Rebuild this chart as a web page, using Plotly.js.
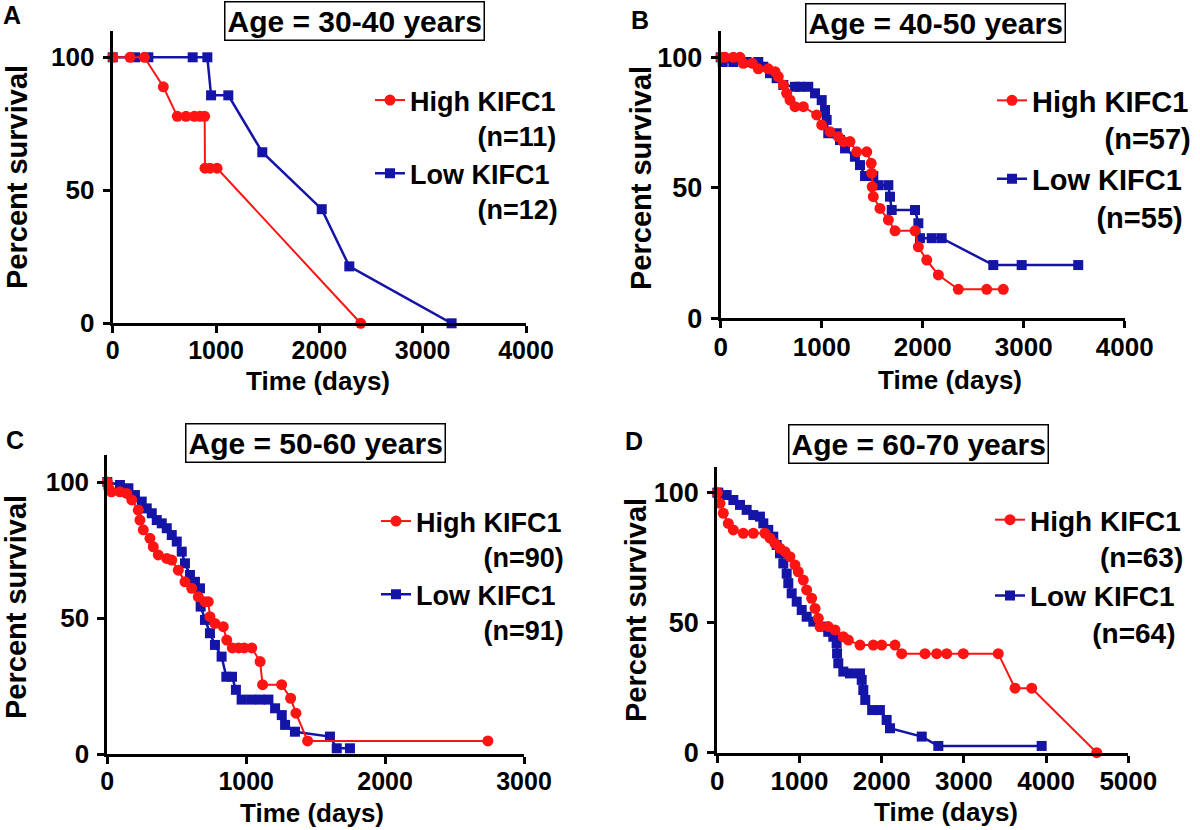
<!DOCTYPE html>
<html>
<head>
<meta charset="utf-8">
<script src="https://cdn.plot.ly/plotly-3.0.1.min.js"></script>
<style>html,body{margin:0;padding:0;background:#fff;}#chart{width:1200px;height:830px;}</style>
</head>
<body>
<div id="chart"></div>
<script>
// ---------- DATA ----------
const panelTitles = ["Age = 30-40 years", "Age = 40-50 years", "Age = 50-60 years", "Age = 60-70 years"];
const panelLetters = ["A", "B", "C", "D"];
const seriesNames = ["High KIFC1", "Low KIFC1"];
const nHigh = [11, 57, 90, 63];
const nLow = [12, 55, 91, 64];
const xTitle = "Time (days)";
const yTitle = "Percent survival";
const yTicks = [0, 50, 100];
const xMax = [4000, 4000, 3000, 5000];

// Panel A (30-40 years)
const A_high_days = [0, 167, 306, 490, 625, 709, 790, 845, 890, 893, 942, 1010, 2400];
const A_high_pct  = [100, 100, 100, 88.9, 77.8, 77.8, 77.8, 77.8, 77.8, 58.3, 58.3, 58.3, 0];
const A_low_days  = [0, 216, 345, 774, 916, 952, 1119, 1448, 2023, 2290, 3280];
const A_low_pct   = [100, 100, 100, 100, 100, 85.7, 85.7, 64.3, 42.9, 21.4, 0];

// Panel B (40-50 years)
const B_high_days = [0, 43, 125, 190, 224, 313, 372, 471, 538, 570, 620, 653, 686, 736, 818, 950, 1000, 1082, 1164, 1214, 1280, 1347, 1446, 1490, 1495, 1500, 1511, 1577, 1660, 1726, 1924, 1957, 2040, 2155, 2353, 2634, 2798];
const B_high_pct  = [100, 100, 100, 100, 97.7, 97.7, 95.6, 95.6, 94.5, 92.6, 89.4, 86.2, 83.6, 81.1, 81.1, 77.9, 74.1, 71.5, 69.6, 67.7, 67.7, 63.8, 63.8, 59.4, 55.6, 50.4, 46.6, 42.1, 37.7, 33.5, 33.5, 27.4, 22.3, 16.6, 11.1, 11.1, 11.1];
const B_low_days  = [0, 20, 125, 257, 372, 422, 488, 554, 620, 736, 785, 867, 934, 1000, 1033, 1049, 1065, 1148, 1181, 1231, 1329, 1379, 1429, 1511, 1560, 1660, 1676, 1693, 1924, 1957, 1973, 2089, 2188, 2699, 2980, 3540];
const B_low_pct   = [100, 98.2, 98.2, 98.2, 98.2, 96.4, 93.9, 92, 89.4, 88.7, 88.7, 88.7, 86.2, 83.6, 79.8, 76, 70.9, 70.9, 68.3, 65.1, 61.9, 58.7, 54.5, 54.5, 51, 51, 46.6, 41.5, 41.5, 36.4, 30.7, 30.7, 30.7, 20.4, 20.4, 20.4];

// Panel C (50-60 years)
const C_high_days = [0, 10, 30, 91, 140, 176, 223, 235, 259, 307, 331, 367, 428, 464, 511, 559, 608, 655, 703, 727, 739, 775, 835, 860, 900, 945, 985, 1040, 1100, 1118, 1255, 1320, 1358, 1442, 2740];
const C_high_pct  = [100, 97.8, 96.4, 96.4, 95.8, 93.4, 89.7, 86, 82.4, 79.3, 76.2, 73.2, 71.9, 71.3, 67.6, 63.3, 60.9, 57.8, 56, 56, 50.5, 48, 46.8, 41.9, 39, 39, 39, 39, 34, 25.5, 25.5, 20.5, 15, 4.8, 4.8];
const C_low_days  = [0, 91, 152, 199, 248, 284, 320, 356, 392, 428, 464, 500, 536, 559, 595, 631, 667, 672, 703, 739, 775, 823, 857, 898, 926, 967, 1036, 1100, 1160, 1208, 1256, 1280, 1351, 1603, 1652, 1747];
const C_low_pct   = [100, 98.9, 97.7, 95.2, 92.8, 90.3, 88.5, 86, 84.8, 83, 80.5, 78.1, 74.4, 70.1, 65.8, 63.3, 60.9, 54.2, 49.3, 44.4, 40.1, 35.8, 28.4, 28.4, 23.6, 20, 20, 20, 20, 16.8, 14.3, 10.7, 8.2, 6.4, 2.1, 2.1];

// Panel D (60-70 years)
const D_high_days = [0, 33, 73, 134, 195, 316, 438, 580, 641, 702, 763, 823, 884, 945, 985, 1046, 1087, 1148, 1189, 1229, 1249, 1350, 1432, 1533, 1594, 1736, 1898, 2000, 2162, 2243, 2527, 2669, 2791, 2993, 3418, 3622, 3825, 4616];
const D_high_pct  = [100, 95.9, 92.1, 88.2, 85.7, 84.4, 84.4, 84.4, 82.5, 80.5, 78.6, 77.3, 75.4, 72.2, 69.6, 66.4, 62.6, 59.4, 55.5, 51.7, 48.5, 48.5, 47.2, 44.6, 43.3, 41.4, 41.4, 41.4, 41.4, 38.1, 38.1, 38.1, 38.1, 38.1, 38.1, 24.8, 24.8, 0];
const D_low_days  = [0, 12, 114, 195, 276, 357, 438, 519, 560, 620, 681, 722, 763, 803, 844, 864, 905, 966, 1027, 1087, 1168, 1270, 1350, 1411, 1452, 1457, 1472, 1533, 1614, 1736, 1757, 1776, 1800, 1884, 1978, 2060, 2101, 2487, 2689, 3946];
const D_low_pct   = [100, 100, 99.1, 97.2, 95.3, 93.4, 91.4, 90.8, 88.2, 85.7, 83.1, 79.9, 76.7, 72.8, 68.9, 65.2, 61.3, 58.1, 54.9, 52.3, 50.4, 48.5, 46.5, 44.6, 42.1, 38.2, 34.4, 31.2, 30.5, 30.5, 28, 24.1, 20.3, 16.4, 16.4, 12.6, 9.4, 6.2, 2.6, 2.6];

// ---------- LAYOUT HELPERS (pixel geometry) ----------
const W = 1200, H = 830;
const px = x => x / W;
const py = y => 1 - y / H;
const RED = '#ff1414', BLUE = '#1414a6';
const FONT = 'Liberation Sans, Arial, Helvetica, sans-serif';
const nb = n => '\u00a0'.repeat(n);

const panels = [
  {hd: A_high_days, hp: A_high_pct, ld: A_low_days, lp: A_low_pct,
   x0: 112.7, x1: 526, yb: 323.3, yt: 30.7, xtick: 25, ytick: 26, leg: 27, legX: 370, legY: 76, padH: 9, padL: 9,
   title: [354, 21], letter: [12, 15], ytit: [17, 177], xtit: [318, 381]},
  {hd: B_high_days, hp: B_high_pct, ld: B_low_days, lp: B_low_pct,
   x0: 720.7, x1: 1124.7, yb: 318.3, yt: 31.2, xtick: 26, ytick: 27, leg: 29, legX: 992, legY: 75, padH: 9, padL: 8,
   title: [935, 23], letter: [640, 20], ytit: [641, 178], xtit: [950, 380]},
  {hd: C_high_days, hp: C_high_pct, ld: C_low_days, lp: C_low_pct,
   x0: 107.3, x1: 524, yb: 754, yt: 454.8, xtick: 25, ytick: 26, leg: 27, legX: 376, legY: 497, padH: 9, padL: 9,
   title: [316, 443], letter: [15, 440], ytit: [16, 607], xtit: [312, 813]},
  {hd: D_high_days, hp: D_high_pct, ld: D_low_days, lp: D_low_pct,
   x0: 717.3, x1: 1128.3, yb: 752.7, yt: 466.7, xtick: 26, ytick: 27, leg: 28, legX: 990, legY: 495, padH: 9, padL: 8,
   title: [918, 444], letter: [634, 441], ytit: [636, 610], xtit: [946, 812]}
];

const data = [];
const layout = {
  width: W, height: H, margin: {l: 0, r: 0, t: 0, b: 0},
  paper_bgcolor: '#ffffff', plot_bgcolor: 'rgba(0,0,0,0)',
  showlegend: true, annotations: [], font: {family: FONT, color: '#000'}
};

panels.forEach((p, i) => {
  const sfx = i === 0 ? '' : String(i + 1);
  const xa = 'x' + sfx, ya = 'y' + sfx, lg = 'legend' + sfx;
  // Low first (drawn under), High on top
  data.push({
    x: p.ld, y: p.lp, xaxis: xa, yaxis: ya, legend: lg, legendrank: 2,
    type: 'scatter', mode: 'lines+markers', cliponaxis: false,
    name: seriesNames[1] + '<br>' + nb(p.padL) + '(n=' + nLow[i] + ')',
    line: {color: BLUE, width: 2.5},
    marker: {symbol: 'square', size: 10, color: BLUE}
  });
  data.push({
    x: p.hd, y: p.hp, xaxis: xa, yaxis: ya, legend: lg, legendrank: 1,
    type: 'scatter', mode: 'lines+markers', cliponaxis: false,
    name: seriesNames[0] + '<br>' + nb(p.padH) + '(n=' + nHigh[i] + ')',
    line: {color: RED, width: 2},
    marker: {symbol: 'circle', size: 11, color: RED}
  });
  const axCommon = {
    showline: true, linewidth: 3, linecolor: '#000', ticks: 'outside', ticklen: 7,
    tickwidth: 3, tickcolor: '#000', showgrid: false, zeroline: false, fixedrange: true
  };
  layout['xaxis' + sfx] = Object.assign({}, axCommon, {
    domain: [px(p.x0), px(p.x1)], range: [0, xMax[i]], dtick: 1000, tick0: 0, anchor: ya,
    ticklabelstandoff: -4,
    tickfont: {family: FONT, size: p.xtick, weight: 'bold', color: '#000'}
  });
  layout['yaxis' + sfx] = Object.assign({}, axCommon, {
    domain: [py(p.yb), py(p.yt)], range: [0, 110], tickvals: yTicks, anchor: xa, ticklabelstandoff: 3,
    tickfont: {family: FONT, size: p.ytick, weight: 'bold', color: '#000'}
  });
  layout[lg] = {
    x: px(p.legX), y: py(p.legY), xanchor: 'left', yanchor: 'top',
    bgcolor: 'rgba(0,0,0,0)', borderwidth: 0, valign: 'top', tracegroupgap: 0,
    font: {family: FONT, size: p.leg, weight: 'bold', color: '#000'}
  };
  // panel title box
  layout.annotations.push({
    xref: 'paper', yref: 'paper', x: px(p.title[0]), y: py(p.title[1]),
    xanchor: 'center', yanchor: 'middle', showarrow: false,
    text: panelTitles[i], bordercolor: '#000', borderwidth: 1.5, borderpad: 2, bgcolor: '#fff',
    font: {family: FONT, size: 30, weight: 'bold', color: '#000'}
  });
  // panel letter
  layout.annotations.push({
    xref: 'paper', yref: 'paper', x: px(p.letter[0]), y: py(p.letter[1]),
    xanchor: 'center', yanchor: 'middle', showarrow: false, text: panelLetters[i],
    font: {family: FONT, size: 25, weight: 'bold', color: '#000'}
  });
  // axis titles
  layout.annotations.push({
    xref: 'paper', yref: 'paper', x: px(p.ytit[0]), y: py(p.ytit[1]),
    xanchor: 'center', yanchor: 'middle', showarrow: false, text: yTitle, textangle: -90,
    font: {family: FONT, size: 29, weight: 'bold', color: '#000'}
  });
  layout.annotations.push({
    xref: 'paper', yref: 'paper', x: px(p.xtit[0]), y: py(p.xtit[1]),
    xanchor: 'center', yanchor: 'middle', showarrow: false, text: xTitle,
    font: {family: FONT, size: 26, weight: 'bold', color: '#000'}
  });
});

Plotly.newPlot('chart', data, layout, {staticPlot: true, displayModeBar: false});
</script>
</body>
</html>
